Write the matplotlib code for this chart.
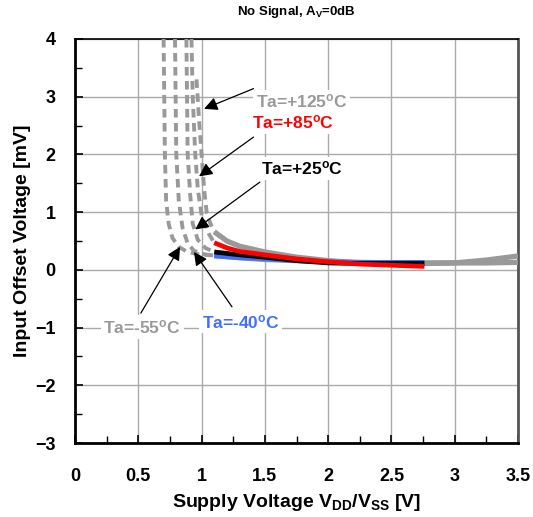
import matplotlib
matplotlib.use("Agg")
import matplotlib.pyplot as plt
from matplotlib.ticker import MultipleLocator

plt.rcParams['font.family'] = ['Liberation Sans', 'DejaVu Sans']
plt.rcParams['font.weight'] = 'bold'
plt.rcParams['mathtext.fontset'] = 'custom'
plt.rcParams['mathtext.rm'] = 'Liberation Sans:bold'
plt.rcParams['mathtext.it'] = 'Liberation Sans:bold'
plt.rcParams['mathtext.bf'] = 'Liberation Sans:bold'
plt.rcParams['mathtext.default'] = 'rm'

GRAY = '#999999'

# low-voltage region (dashed), offset rises sharply below ~1V
v_m55 = [0.70, 0.705, 0.71, 0.72, 0.74, 0.77, 0.82, 0.88, 0.95, 1.02, 1.10]
o_m55 = [4.0, 3.0, 2.0, 1.2, 0.8, 0.55, 0.40, 0.32, 0.28, 0.26, 0.25]
v_m40 = [0.79, 0.795, 0.80, 0.82, 0.85, 0.89, 0.94, 1.00, 1.10]
o_m40 = [4.0, 3.0, 2.0, 1.2, 0.72, 0.46, 0.33, 0.28, 0.24]
v_25 = [0.88, 0.885, 0.89, 0.91, 0.93, 0.97, 1.03, 1.10]
o_25 = [4.0, 3.0, 2.0, 1.3, 0.80, 0.52, 0.38, 0.31]
v_85 = [0.92, 0.93, 0.95, 0.97, 1.00, 1.05, 1.10]
o_85 = [4.0, 3.0, 2.0, 1.4, 0.95, 0.65, 0.47]
v_125 = [0.96, 0.98, 1.00, 1.02, 1.04, 1.07, 1.10]
o_125 = [3.3, 2.6, 2.0, 1.4, 1.0, 0.80, 0.66]

# normal operating region (solid)
v_gray_hi = [1.10, 1.2, 1.3, 1.5, 1.75, 2.0, 2.25, 2.5, 2.75, 3.0, 3.25, 3.5]
o_gray_hi = [0.66, 0.50, 0.41, 0.31, 0.22, 0.16, 0.12, 0.11, 0.11, 0.12, 0.17, 0.24]
v_gray_lo = [1.10, 1.3, 1.5, 2.0, 2.5, 2.75, 3.0, 3.25, 3.5]
o_gray_lo = [0.25, 0.21, 0.18, 0.14, 0.12, 0.12, 0.12, 0.12, 0.13]
v_red = [1.10, 1.2, 1.3, 1.5, 1.75, 2.0, 2.25, 2.5, 2.76]
o_red = [0.47, 0.38, 0.32, 0.26, 0.19, 0.14, 0.10, 0.08, 0.06]
v_black = [1.10, 1.3, 1.5, 1.75, 2.0, 2.25, 2.5, 2.76]
o_black = [0.31, 0.26, 0.22, 0.16, 0.12, 0.11, 0.11, 0.11]
v_blue = [1.10, 1.3, 1.5, 1.75, 2.0, 2.25, 2.5, 2.76]
o_blue = [0.24, 0.21, 0.19, 0.16, 0.14, 0.13, 0.13, 0.13]

x_ticks = [0, 0.5, 1, 1.5, 2, 2.5, 3, 3.5]
x_ticklabels = ['0', '0.5', '1', '1.5', '2', '2.5', '3', '3.5']
y_ticks = [-3, -2, -1, 0, 1, 2, 3, 4]

fig = plt.figure(figsize=(5.33, 5.17), dpi=100)
ax = fig.add_axes([0.1407, 0.1431, 0.8313, 0.7815])

dash = (0, (2.2, 1.4))
for v, o in [(v_m55, o_m55), (v_m40, o_m40), (v_25, o_25), (v_85, o_85), (v_125, o_125)]:
    ax.plot(v, o, color=GRAY, lw=2.8, linestyle=dash, zorder=3)

ax.plot(v_gray_lo, o_gray_lo, color=GRAY, lw=3.8, solid_capstyle='butt', zorder=3)
ax.plot(v_gray_hi, o_gray_hi, color=GRAY, lw=3.8, solid_capstyle='butt', zorder=3)
ax.plot(v_blue, o_blue, color='#3f6fff', lw=3.4, solid_capstyle='butt', zorder=4)
ax.plot(v_black, o_black, color='black', lw=3.4, solid_capstyle='butt', zorder=4)
ax.plot(v_red, o_red, color='#ff0000', lw=3.4, solid_capstyle='butt', zorder=5)

ax.set_xlim(0, 3.5)
ax.set_ylim(-3, 4)
ax.set_xticks(x_ticks)
ax.set_xticklabels(x_ticklabels)
ax.set_yticks(y_ticks)
ax.xaxis.set_minor_locator(MultipleLocator(0.25))
ax.yaxis.set_minor_locator(MultipleLocator(0.5))
ax.grid(True, which='major', color='#aaaaaa', lw=1.0)
ax.set_axisbelow(True)
ax.tick_params(which='both', direction='in', labelsize=13, top=False, right=False)
ax.tick_params(which='major', length=6, width=1.2)
ax.tick_params(axis='x', which='major', pad=18)
ax.tick_params(axis='y', which='major', pad=14)
ax.tick_params(which='minor', length=5, width=1.0)
for t in ax.get_xticklabels() + ax.get_yticklabels():
    t.set_fontweight('bold')

ax.spines['left'].set_linewidth(2)
ax.spines['bottom'].set_linewidth(2)
ax.spines['top'].set_linewidth(1.2)
ax.spines['right'].set_linewidth(2)
ax.spines['right'].set_color('#555555')

ax.set_xlabel('Supply Voltage V$_{DD}$/V$_{SS}$ [V]', fontsize=14, fontweight='bold', labelpad=5)
ax.set_ylabel('Input Offset Voltage [mV]', fontsize=14, fontweight='bold', labelpad=3)
ax.set_title('No Signal, A$_{V}$=0dB', fontsize=9.5, fontweight='bold', pad=17)

box = dict(boxstyle='square,pad=0.15', fc='white', ec='none')
arrow = dict(arrowstyle='-|>', color='black', lw=0.9, mutation_scale=20, shrinkA=0, shrinkB=0)
labels = [
    ('Ta=+125$^{o}$C', GRAY, (1.02, 2.79), (1.79, 2.92), (1.41, 3.14)),
    ('Ta=+85$^{o}$C', '#ff0000', (0.98, 1.62), (1.72, 2.55), (1.41, 2.30)),
    ('Ta=+25$^{o}$C', 'black', (0.95, 0.70), (1.79, 1.76), (1.46, 1.52)),
    ('Ta=-55$^{o}$C', GRAY, (0.83, 0.40), (0.53, -0.99), (0.52, -0.75)),
    ('Ta=-40$^{o}$C', '#3f6fff', (0.94, 0.31), (1.31, -0.90), (1.24, -0.64)),
]
for txt, col, tip, pos, tail in labels:
    ax.annotate('', xy=tip, xytext=tail, arrowprops=arrow, zorder=6)
    ax.text(pos[0], pos[1], txt, color=col, fontsize=12.5, fontweight='bold',
            ha='center', va='center', bbox=box, zorder=7)

fig.savefig('out.png', dpi=100)
